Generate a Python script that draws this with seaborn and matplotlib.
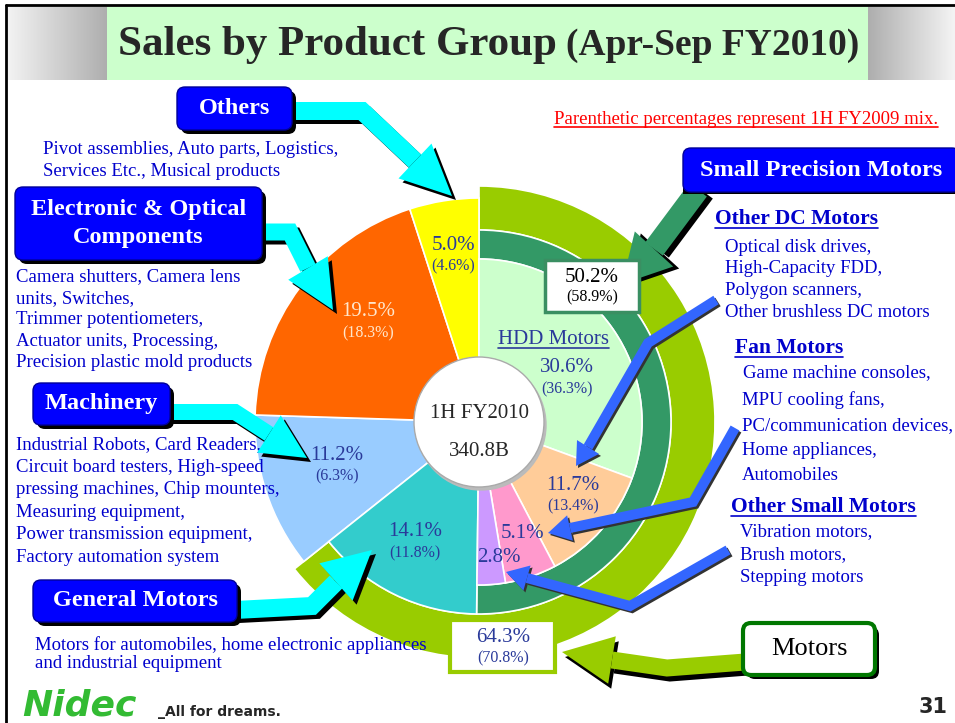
# Libraries
import numpy as np
import seaborn as sns
import matplotlib.pyplot as plt
from matplotlib.patches import FancyBboxPatch, Circle, Rectangle
from matplotlib.colors import LinearSegmentedColormap

# Data: share of sales, 1H FY2010, with 1H FY2009 in parentheses
segments = ["HDD Motors", "Other DC Motors", "Fan Motors", "Other Small Motors",
            "General Motors", "Machinery", "Electronic & Optical Components", "Others"]
share_2010 = [30.6, 11.7, 5.1, 2.8, 14.1, 11.2, 19.5, 5.0]
share_2009 = [36.3, 13.4, None, None, 11.8, 6.3, 18.3, 4.6]
seg_colors = ["#CCFFCC", "#FFCC99", "#FF99CC", "#CC99FF",
              "#33CCCC", "#99CCFF", "#FF6600", "#FFFF00"]

spm_2010, spm_2009 = 50.2, 58.9        # Small Precision Motors
motors_2010, motors_2009 = 64.3, 70.8  # all motors
total_sales = "340.8B"

# Layout (pixel coords of the slide, y down)
C = (479, 422)
R_IN, R_SPM, R_MOT, R_OTHER, R_HOLE = 163, 192, 236, 224, 65

label_pos = [(567, 368), (573, 485), (522, 533), (499, 557),
             (415, 532), (337, 455), (368, 312), (453, 245)]
BLUE = "#0000CC"
NAVY = "#2A3A9A"

sns.set_theme(style="white")
plt.rcParams['font.family'] = ['Liberation Serif', 'DejaVu Serif']

fig = plt.figure(figsize=(9.55, 7.23), dpi=100)
ax = fig.add_axes([0, 0, 1, 1])

PX = 72 / 100  # pixels -> points


def pie_part(values, colors, radius, width=None, z=2):
    # y axis is inverted, so startangle=-90 / counterclock=True draws
    # clockwise from 12 o'clock on screen
    wp = dict(edgecolor="white", linewidth=1.2)
    if width:
        wp["width"] = width
    wedges, _ = ax.pie(values, colors=[c if c else "white" for c in colors],
                       radius=radius, center=C, startangle=-90,
                       counterclock=True, wedgeprops=wp, frame=True)
    for w, c in zip(wedges, colors):
        w.set_zorder(z)
        if c is None:
            w.set_visible(False)
    return wedges


# Rings: motors and small precision motors
pie_part([motors_2010, 100 - motors_2010], ["#99CC00", None], R_MOT, R_MOT - R_SPM)
pie_part([spm_2010, 100 - spm_2010], ["#339966", None], R_SPM, R_SPM - R_IN)

# Inner pie, three radii
motor_sum = sum(share_2010[:5])
pie_part([motor_sum] + share_2010[5:], [None] + seg_colors[5:], R_OTHER)
pie_part([sum(share_2010[:4]), share_2010[4], sum(share_2010[5:])],
         [None, seg_colors[4], None], R_SPM)
pie_part(share_2010[:4] + [sum(share_2010[4:])], seg_colors[:4] + [None], R_IN)

ax.set_xlim(0, 955)
ax.set_ylim(723, 0)
ax.set_aspect("auto")
ax.axis("off")

# centre hole
ax.add_patch(Circle((C[0] + 2, C[1] + 3), R_HOLE, color="#BBBBBB", zorder=3))
ax.add_patch(Circle(C, R_HOLE, fc="white", ec="#AAAAAA", lw=1, zorder=3))
ax.text(C[0], C[1] - 9, "1H FY2010", ha="center", va="center", fontsize=15, zorder=4)
ax.text(C[0], C[1] + 30, total_sales, ha="center", va="center", fontsize=15, zorder=4)

# slice labels
for i, (x, y) in enumerate(label_pos):
    col = "#FFE6CC" if i == 6 else NAVY
    ax.text(x, y, f"{share_2010[i]:.1f}%", ha="center", va="center",
            fontsize=15, color=col, zorder=6)
    if share_2009[i] is not None:
        ax.text(x, y + 21, f"({share_2009[i]:.1f}%)", ha="center", va="center",
                fontsize=11.5, color=col, zorder=6)


def underline_text(x, y, s, **kw):
    t = ax.text(x, y, s, **kw)
    fig.canvas.draw()
    bb = t.get_window_extent().transformed(ax.transData.inverted())
    x0, x1 = sorted([bb.x0, bb.x1])
    yb = max(bb.y0, bb.y1) - 1.5
    ax.plot([x0, x1], [yb, yb], color=kw.get("color", "black"), lw=1.2,
            zorder=kw.get("zorder", 6))
    return t


underline_text(553, 340, "HDD Motors", ha="center", va="center", fontsize=15,
               color=NAVY, zorder=6)


def block_arrow(body, tip, width, half, color, shadow=(4, 4), z=7, shade="black"):
    def draw(dx, dy, col, zz):
        xs = [p[0] + dx for p in body]
        ys = [p[1] + dy for p in body]
        ax.plot(xs, ys, color=col, lw=width * PX, solid_joinstyle="miter",
                solid_capstyle="butt", zorder=zz)
        bx, by = body[-1]
        d = np.array([tip[0] - bx, tip[1] - by], float)
        d /= np.hypot(*d)
        n = np.array([-d[1], d[0]]) * half
        hx = [bx + n[0] + dx, tip[0] + dx, bx - n[0] + dx]
        hy = [by + n[1] + dy, tip[1] + dy, by - n[1] + dy]
        ax.fill(hx, hy, color=col, zorder=zz, lw=0)
    if shadow:
        draw(shadow[0], shadow[1], shade, z)
    draw(0, 0, color, z + 0.1)


def label_box(x0, y0, x1, y1, text, fc="#0000FF", ec="#000099", tc="white",
              lw=1, fs=17.5, bold=True, shadow=4):
    if shadow:
        ax.add_patch(FancyBboxPatch((x0 + shadow, y0 + shadow), x1 - x0, y1 - y0,
                                    boxstyle="round,pad=0,rounding_size=8",
                                    fc="black", ec="none", zorder=8))
    ax.add_patch(FancyBboxPatch((x0, y0), x1 - x0, y1 - y0,
                                boxstyle="round,pad=0,rounding_size=8",
                                fc=fc, ec=ec, lw=lw, zorder=8.1))
    ax.text((x0 + x1) / 2, (y0 + y1) / 2, text, ha="center", va="center",
            color=tc, fontsize=fs, fontweight="bold" if bold else "normal",
            zorder=9, linespacing=1.5)


CYAN = "#00FFFF"
# cyan arrows to the other groups
block_arrow([(290, 111), (362, 111), (415, 161)], (452, 196), 18, 24, CYAN)
block_arrow([(260, 232), (290, 232), (308, 268)], (333, 310), 17, 23, CYAN)
block_arrow([(168, 412), (235, 412), (269, 434)], (307, 458), 16, 22, CYAN)
block_arrow([(235, 610), (312, 606), (336, 582)], (372, 550), 18, 25, CYAN)

# small precision arrow
block_arrow([(698, 190), (654, 249)], (622, 284), 22, 26, "#339966", shadow=(6, 2))

# blue arrows from the descriptions
BL = "#3366FF"
block_arrow([(716, 300), (648, 343), (588, 447)], (576, 466), 10, 13, BL, shadow=(2, 2), shade="#333333")
block_arrow([(735, 428), (693, 502), (570, 528)], (548, 533), 10, 13, BL, shadow=(2, 2), shade="#333333")
block_arrow([(728, 550), (630, 606), (527, 578)], (506, 572), 10, 13, BL, shadow=(2, 2), shade="#333333")

# motors arrow
block_arrow([(745, 662), (667, 668), (612, 660)], (562, 652), 17, 24, "#99CC00", shadow=(3, 5))

# percentage boxes
ax.add_patch(Rectangle((545, 260), 94, 52, fc="white", ec="#3A8F62", lw=2.5, zorder=8))
ax.text(592, 277, f"{spm_2010:.1f}%", ha="center", va="center", fontsize=15, color="black", zorder=9)
ax.text(592, 297, f"({spm_2009:.1f}%)", ha="center", va="center", fontsize=11.5, color="black", zorder=9)
ax.add_patch(Rectangle((450, 620), 105, 52, fc="white", ec="#99CC00", lw=3, zorder=8))
ax.text(503, 637, f"{motors_2010:.1f}%", ha="center", va="center", fontsize=15, color=NAVY, zorder=9)
ax.text(503, 658, f"({motors_2009:.1f}%)", ha="center", va="center", fontsize=11.5, color=NAVY, zorder=9)

# group boxes
label_box(177, 87, 292, 130, "Others")
label_box(15, 187, 262, 260, "Electronic & Optical\nComponents")
label_box(33, 383, 170, 425, "Machinery")
label_box(33, 580, 237, 622, "General Motors")
label_box(683, 148, 960, 192, "Small Precision Motors", shadow=0)
ax.add_patch(Rectangle((683, 188), 272, 6, fc="black", ec="none", zorder=7.9))
label_box(743, 623, 875, 675, "Motors", fc="white", ec="#007700", tc="black",
          lw=3, fs=19, bold=False)


# descriptions
def desc(x, y0, lines, gap, fs=13.5, color=BLUE):
    for k, s in enumerate(lines):
        ax.text(x, y0 + k * gap, s, ha="left", va="center", fontsize=fs, color=color, zorder=6)


desc(43, 150, ["Pivot assemblies, Auto parts, Logistics,",
               "Services Etc., Musical products"], 22)
desc(16, 277, ["Camera shutters, Camera lens", "units, Switches,",
               "Trimmer potentiometers,", "Actuator units, Processing,",
               "Precision plastic mold products"], 21.4)
desc(16, 445, ["Industrial Robots, Card Readers,", "Circuit board testers, High-speed",
               "pressing machines, Chip mounters,", "Measuring equipment,",
               "Power transmission equipment,", "Factory automation system"], 22.4)
desc(35, 645, ["Motors for automobiles, home electronic appliances",
               "and industrial equipment"], 18)

underline_text(715, 219, "Other DC Motors", ha="left", va="center", fontsize=15.5,
               fontweight="bold", color=BLUE, zorder=6)
desc(725, 247, ["Optical disk drives,", "High-Capacity FDD,", "Polygon scanners,",
                "Other brushless DC motors"], 21.7)
underline_text(735, 348, "Fan Motors", ha="left", va="center", fontsize=15.5,
               fontweight="bold", color=BLUE, zorder=6)
desc(743, 373, ["Game machine consoles,"], 25)
desc(742, 400, ["MPU cooling fans,", "PC/communication devices,",
                "Home appliances,", "Automobiles"], 25.3)
underline_text(731, 507, "Other Small Motors", ha="left", va="center", fontsize=15.5,
               fontweight="bold", color=BLUE, zorder=6)
desc(740, 532, ["Vibration motors,", "Brush motors,", "Stepping motors"], 22.5)

underline_text(746, 120, "Parenthetic percentages represent 1H FY2009 mix.",
               ha="center", va="center", fontsize=13.5, color="#FF0000", zorder=6)

# title band
gray_cm = LinearSegmentedColormap.from_list("band", ["#F4F4F4", "#AEAEAE"])
grad = np.linspace(0, 1, 100).reshape(1, -1)
ax.imshow(grad, extent=(6, 107, 80, 7), cmap=gray_cm, aspect="auto", zorder=1)
ax.imshow(grad[:, ::-1], extent=(868, 955, 80, 7), cmap=gray_cm, aspect="auto", zorder=1)
ax.add_patch(Rectangle((107, 7), 761, 73, fc="#CCFFCC", ec="none", zorder=1))
ax.text(118, 55, "Sales by Product Group", ha="left", va="baseline",
        fontsize=31, fontweight="bold", zorder=2)
ax.text(566, 55, "(Apr-Sep FY2010)", ha="left", va="baseline",
        fontsize=27, fontweight="bold", zorder=2)

# slide frame
ax.plot([6, 955], [5, 5], color="black", lw=2, zorder=10)
ax.plot([6, 6], [5, 723], color="black", lw=2, zorder=10)

# footer
ax.text(22, 716, "Nidec", ha="left", va="baseline", fontsize=26, fontweight="heavy",
        style="italic", color="#33BB33", family="DejaVu Sans", zorder=6)
ax.text(158, 712, "_All for dreams.", ha="left", va="center", fontsize=10,
        fontweight="bold", family="DejaVu Sans", zorder=6)
ax.text(948, 707, "31", ha="right", va="center", fontsize=15, fontweight="bold",
        family="DejaVu Sans", zorder=6)

ax.set_xlim(0, 955)
ax.set_ylim(723, 0)

plt.savefig("out.png", dpi=100)
